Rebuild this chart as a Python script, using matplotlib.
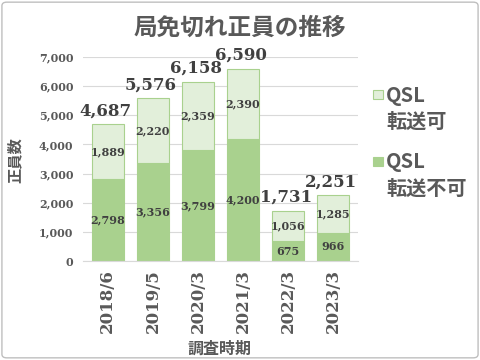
import matplotlib
matplotlib.use("Agg")
import matplotlib.pyplot as plt
from matplotlib.patches import FancyBboxPatch, Rectangle
import numpy as np

categories = ["2018/6", "2019/5", "2020/3", "2021/3", "2022/3", "2023/3"]
not_forward = [2798, 3356, 3799, 4200, 675, 966]   # QSL 転送不可
forward = [1889, 2220, 2359, 2390, 1056, 1285]       # QSL 転送可
totals = [4687, 5576, 6158, 6590, 1731, 2251]
yticks = [0, 1000, 2000, 3000, 4000, 5000, 6000, 7000]
legend_labels = [("QSL", "転送可"), ("QSL", "転送不可")]

jp = ["Noto Sans CJK JP", "DejaVu Sans"]
num = ["DejaVu Serif"]
txt = "#595959"
dark = "#a9d18e"
light = "#e2efda"

fig = plt.figure(figsize=(4.8, 3.6), dpi=100)
fig.patch.set_facecolor("white")
fig.patches.append(FancyBboxPatch((0.004, 0.006), 0.992, 0.988, boxstyle="round,pad=0,rounding_size=0.01",
                                  transform=fig.transFigure, fill=False, edgecolor="#bfbfbf", lw=1))
ax = fig.add_axes([83/480, 1 - 261/360, 275/480, 204/360])
x = np.arange(len(categories))
w = 0.7
ax.bar(x, not_forward, w, color=dark, edgecolor=dark, lw=0.8, zorder=2)
ax.bar(x, forward, w, bottom=not_forward, color=light, edgecolor=dark, lw=0.8, zorder=2)

for i in range(len(categories)):
    ax.text(x[i], not_forward[i] / 2, f"{not_forward[i]:,}", ha="center", va="center",
            family=num, fontweight="bold", fontsize=8, color="#404040", zorder=3)
    ax.text(x[i], not_forward[i] + forward[i] / 2, f"{forward[i]:,}", ha="center", va="center",
            family=num, fontweight="bold", fontsize=8, color="#404040", zorder=3)
    ax.text(x[i] - 0.05, totals[i] + 170, f"{totals[i]:,}", ha="center", va="bottom",
            family=num, fontweight="bold", fontsize=12, color="#404040", zorder=3, clip_on=False)

ax.set_ylim(0, 7000)
ax.set_xlim(-0.55, len(categories) - 0.45)
ax.set_yticks(yticks)
ax.set_yticklabels([f"{v:,}" for v in yticks], family=num, fontweight="bold", fontsize=8, color=txt)
ax.set_xticks(x)
ax.set_xticklabels(categories, rotation=90, family=num, fontweight="bold", fontsize=12, color=txt)
ax.tick_params(axis="x", length=0, pad=6)
ax.tick_params(axis="y", length=0, pad=7)
ax.yaxis.grid(True, color="#d9d9d9", lw=0.8, zorder=0)
for s in ["top", "right", "left"]:
    ax.spines[s].set_visible(False)
ax.spines["bottom"].set_color("#d9d9d9")
ax.set_axisbelow(True)

ax.set_ylabel("正員数", family=jp, fontweight="bold", fontsize=11, color=txt)
ax.yaxis.set_label_coords(-(83 - 23) / 275, (261 - 160) / 204)
fig.text(220/480, 1 - 349/360, "調査時期", ha="center", va="center", family=jp, fontweight="bold", fontsize=11.5, color=txt)
fig.text(240/480, 1 - 28/360, "局免切れ正員の推移", ha="center", va="center", family=jp, fontweight="bold", fontsize=17, color=txt)

# legend (manual, first line aligned with the swatch)
for (l1, l2), col, y0 in zip(legend_labels, [light, dark], [95, 162]):
    fig.patches.append(Rectangle((373/480, 1 - (y0 + 4)/360), 10/480, 9/360, transform=fig.transFigure,
                                 facecolor=col, edgecolor=dark, lw=0.8))
    fig.text(386/480, 1 - y0/360, l1, ha="left", va="center", family=jp, fontweight="bold", fontsize=14.5, color=txt)
    fig.text(386/480, 1 - (y0 + 26)/360, l2, ha="left", va="center", family=jp, fontweight="bold", fontsize=14.5, color=txt)

fig.savefig("out.png", dpi=100, facecolor="white")
